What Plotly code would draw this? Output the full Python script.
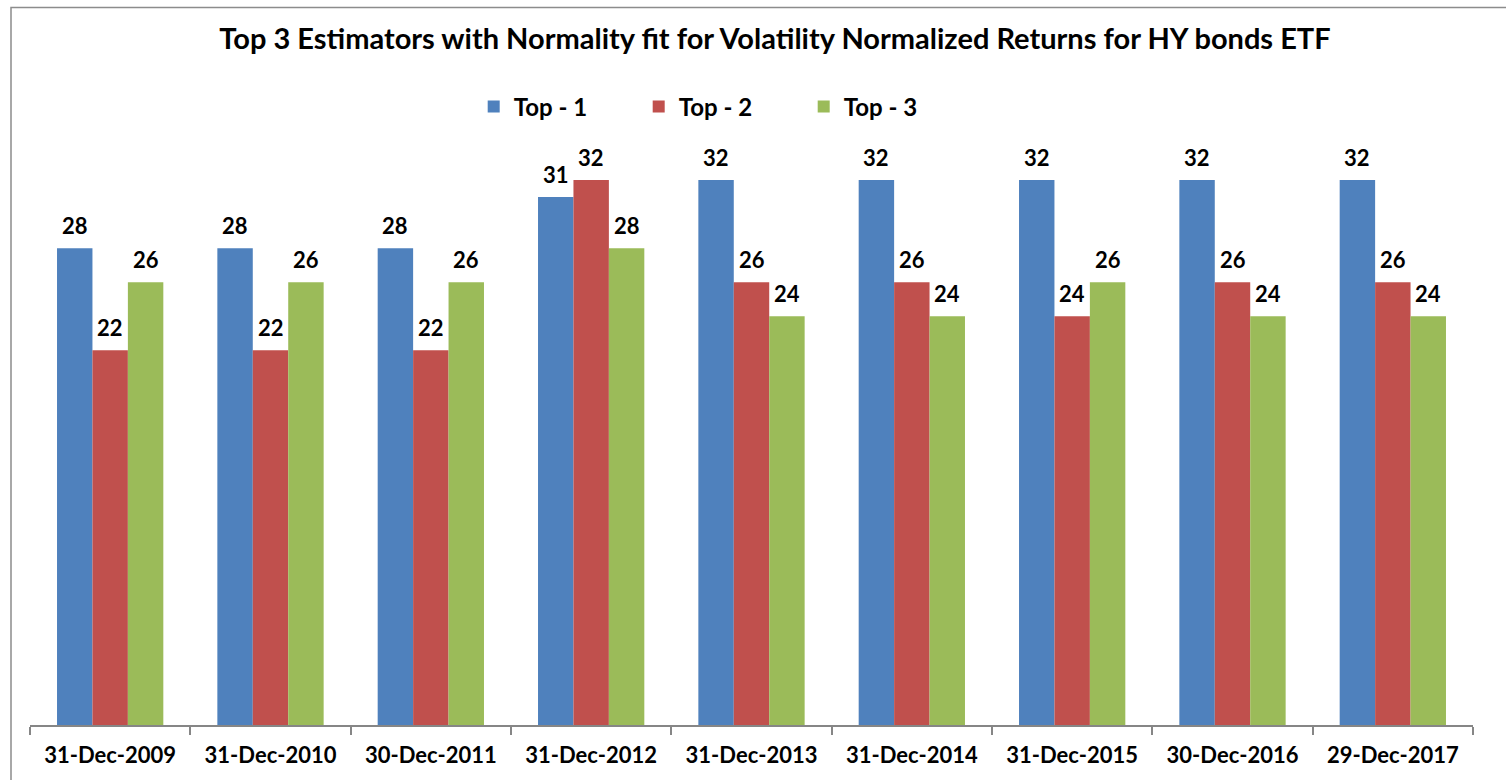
import plotly.graph_objects as go

categories = ["31-Dec-2009", "31-Dec-2010", "30-Dec-2011", "31-Dec-2012", "31-Dec-2013",
              "31-Dec-2014", "31-Dec-2015", "30-Dec-2016", "29-Dec-2017"]
top1 = [28, 28, 28, 31, 32, 32, 32, 32, 32]
top2 = [22, 22, 22, 32, 26, 26, 24, 26, 26]
top3 = [26, 26, 26, 28, 24, 24, 26, 24, 24]
series_names = ["Top - 1", "Top - 2", "Top - 3"]
colors = ["#4F81BD", "#C0504D", "#9BBB59"]

FONT = "Lato"
BARGAP = 0.337
fig = go.Figure()
all_series = [top1, top2, top3]
for name, vals, col in zip(series_names, all_series, colors):
    fig.add_trace(go.Bar(
        x=categories, y=vals, name=name,
        marker=dict(color=col, line=dict(width=0)),
        cliponaxis=False,
    ))

# data labels placed above each grouped bar
bar_w = (1 - BARGAP) / len(all_series)
annotations = []
for si, vals in enumerate(all_series):
    off = (si - (len(all_series) - 1) / 2) * bar_w
    for ci, v in enumerate(vals):
        annotations.append(dict(
            x=ci + off, y=v, xref="x", yref="y", text=str(v), showarrow=False,
            yanchor="bottom", xanchor="center", yshift=7,
            font=dict(family=FONT, size=22, color="black", weight="bold"),
        ))

fig.update_layout(
    width=1506, height=780,
    margin=dict(l=30, r=33, t=129, b=53),
    paper_bgcolor="white", plot_bgcolor="white",
    barmode="group", bargap=BARGAP, bargroupgap=0,
    annotations=annotations,
    title=dict(
        text="Top 3 Estimators with Normality fit for Volatility Normalized Returns for HY bonds ETF",
        x=775 / 1506, xanchor="center", y=1 - 39 / 780, yanchor="middle", yref="container",
        font=dict(family=FONT, size=29, color="black", weight="bold"),
    ),
    legend=dict(
        orientation="h", x=0.479, xanchor="center", y=1.037, yanchor="middle",
        font=dict(family=FONT, size=24, color="black", weight="bold"),
        entrywidth=120, entrywidthmode="pixels", itemwidth=30,
        traceorder="normal",
    ),
    xaxis=dict(
        showline=True, linecolor="#868686", linewidth=1.5,
        ticks="outside", ticklen=8, tickcolor="#868686", tickwidth=1.5,
        tickson="boundaries", ticklabelstandoff=10,
        tickfont=dict(family=FONT, size=22, color="black", weight="bold"),
        showgrid=False,
    ),
    yaxis=dict(visible=False, range=[0, 35], showgrid=False),
    shapes=[dict(
        type="rect", xref="paper", yref="paper",
        x0=-19 / 1443, x1=1.2, y0=-0.3, y1=(727 - 7) / 598,
        line=dict(color="#8C8C8C", width=1.5), fillcolor="rgba(0,0,0,0)", layer="below",
    )],
)

fig.write_html("out.html", config={"displayModeBar": False},
               post_script="document.body.style.margin='0px';document.body.style.overflow='hidden';")
